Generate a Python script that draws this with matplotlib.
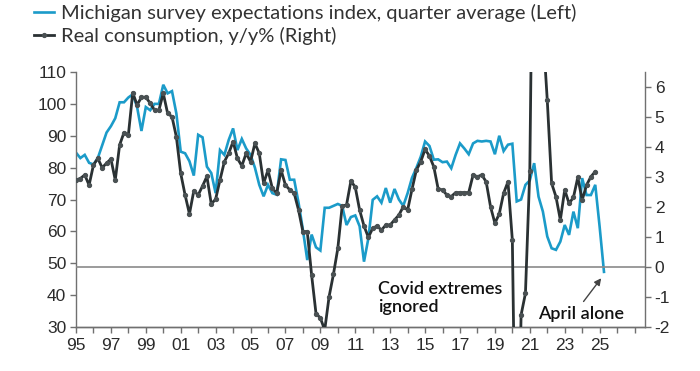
import numpy as np
import matplotlib.pyplot as plt
from matplotlib.ticker import FixedLocator

# quarterly data, 1995Q1 onwards
start_year = 1995
michigan_expect = [
    84.7, 83.0, 84.0, 81.5,   # 1995
    81.0, 83.0, 87.0, 91.0,   # 1996
    93.0, 95.5, 100.5, 100.5,  # 1997
    102.0, 103.0, 99.0, 91.5,  # 1998
    99.0, 98.0, 100.0, 100.0,  # 1999
    106.0, 103.3, 104.0, 97.0,  # 2000
    85.0, 84.5, 82.0, 77.5,   # 2001
    90.3, 89.5, 80.3, 78.3,   # 2002
    72.0, 85.5, 84.0, 88.7,   # 2003
    92.3, 85.5, 89.0, 86.0,   # 2004
    84.0, 80.0, 74.6, 71.0,   # 2005
    74.6, 72.0, 71.5, 82.6,   # 2006
    82.4, 76.2, 76.2, 69.0,   # 2007
    60.5, 51.0, 59.0, 55.0,   # 2008
    54.0, 67.4, 67.4, 68.0,   # 2009
    68.6, 68.0, 62.0, 64.5,   # 2010
    65.0, 61.6, 50.5, 57.8,   # 2011
    69.9, 71.0, 69.0, 73.6,   # 2012
    69.0, 73.3, 70.0, 68.0,   # 2013
    72.0, 76.8, 79.9, 83.4,   # 2014
    88.2, 86.8, 82.5, 82.6,   # 2015
    81.7, 81.9, 79.8, 84.0,   # 2016
    87.6, 86.0, 84.2, 87.6,   # 2017
    88.4, 88.2, 88.4, 88.2,   # 2018
    84.2, 90.0, 85.2, 87.2,   # 2019
    87.5, 69.4, 70.0, 74.6,   # 2020
    76.0, 81.4, 70.9, 66.2,   # 2021
    58.4, 54.7, 54.2, 56.8,   # 2022
    62.0, 58.9, 66.2, 61.0,   # 2023
    76.7, 71.4, 71.4, 74.6,   # 2024
    61.5,                     # 2025Q1
]
april_2025_x = 2025.25
april_2025_value = 47.3

real_consumption = [
    2.90, 2.95, 3.07, 2.73,   # 1995
    3.40, 3.62, 3.31, 3.46,   # 1996
    3.60, 2.90, 4.07, 4.48,   # 1997
    4.40, 5.81, 5.40, 5.66,   # 1998
    5.66, 5.46, 5.23, 5.23,   # 1999
    5.79, 5.12, 5.01, 4.34,   # 2000
    3.12, 2.40, 1.77, 2.54,   # 2001
    2.40, 2.70, 3.02, 2.10,   # 2002
    2.26, 2.90, 3.51, 3.79,   # 2003
    4.18, 3.62, 3.37, 3.79,   # 2004
    3.51, 4.12, 3.79, 2.79,   # 2005
    3.23, 2.62, 2.46, 3.23,   # 2006
    2.73, 2.57, 2.46, 1.90,   # 2007
    1.18, 1.18, -0.27, -1.55,  # 2008
    -1.70, -2.10, -0.99, -0.24,  # 2009
    0.62, 2.03, 2.07, 2.87,   # 2010
    2.66, 1.90, 1.37, 0.99,   # 2011
    1.29, 1.37, 1.23, 1.40,   # 2012
    1.40, 1.57, 1.73, 2.01,   # 2013
    1.90, 2.59, 3.23, 3.51,   # 2014
    3.92, 3.70, 3.34, 2.60,   # 2015
    2.57, 2.40, 2.35, 2.48,   # 2016
    2.48, 2.48, 2.48, 3.07,   # 2017
    3.01, 3.07, 2.84, 2.01,   # 2018
    1.46, 1.77, 2.46, 2.84,   # 2019
    0.90, -9.50, -1.60, -0.88,  # 2020
    3.20, 16.0, 8.50, 7.90,   # 2021
    5.57, 2.79, 2.34, 1.57,   # 2022
    2.57, 2.12, 2.32, 2.99,   # 2023
    2.23, 2.73, 3.01, 3.18,   # 2024
]

label_blue = 'Michigan survey expectations index, quarter average (Left)'
label_dark = 'Real consumption, y/y% (Right)'

blue = '#1b9bc9'
dark = '#2a3133'
txt = '#2b2b2b'

x_blue = start_year + np.arange(len(michigan_expect)) / 4
x_blue = np.append(x_blue, april_2025_x)
y_blue = np.append(michigan_expect, april_2025_value)
x_dark = start_year + np.arange(len(real_consumption)) / 4

plt.rcParams['font.family'] = ['Liberation Sans', 'DejaVu Sans']
plt.rcParams['axes.unicode_minus'] = False

fig = plt.figure(figsize=(7.0, 3.71), dpi=100)
ax = fig.add_axes([76 / 700, 1 - 327 / 371, (645 - 76) / 700, (327 - 72) / 371])
ax2 = ax.twinx()

ax.plot(x_blue, y_blue, color=blue, lw=1.9, solid_joinstyle='miter', label=label_blue)
ax2.axhline(0, color='#8a8a8a', lw=1.2, zorder=1)
ax2.plot(x_dark, real_consumption, color=dark, lw=2.0, marker='o', ms=2.8,
         mfc='#4a5153', mec='#4a5153', label=label_dark, zorder=3)

ax.set_xlim(1995, 2027.6)
ax.set_ylim(30, 110)
ax2.set_ylim(-2, 6.5)
ax.set_yticks(range(30, 111, 10))
ax2.set_yticks(range(-2, 7))

years = list(range(1995, 2026, 2))
ax.set_xticks(years)
ax.set_xticklabels([f'{y % 100:02d}' for y in years])
ax.xaxis.set_minor_locator(FixedLocator(range(1995, 2028)))

for a in (ax, ax2):
    a.spines['top'].set_visible(False)
    for side in ('left', 'right', 'bottom'):
        a.spines[side].set_color('#707070')
        a.spines[side].set_linewidth(1.0)
    a.tick_params(axis='both', which='both', colors='#707070', labelcolor=txt,
                  labelsize=12.5, length=4, width=1.0, pad=3)
ax2.spines['left'].set_visible(False)
ax.spines['right'].set_visible(False)
ax.tick_params(axis='x', which='minor', length=4)
ax.tick_params(axis='x', pad=4)

ax.text(2012.29, 44.3, 'Covid extremes\nignored', fontsize=13, color='#111',
        family=['Lato', 'DejaVu Sans'], fontweight='semibold', va='top', ha='left',
        linespacing=1.15)
ax.text(2023.93, 34.0, 'April alone', fontsize=13, color='#111',
        family=['Lato', 'DejaVu Sans'], fontweight='semibold', ha='center', va='center')
ax.annotate('', xy=(2025.09, 45.3), xytext=(2024.08, 38.0),
            arrowprops=dict(arrowstyle='-|>', color='#444', lw=1.0,
                            shrinkA=0, shrinkB=0, mutation_scale=10))

h1, l1 = ax.get_legend_handles_labels()
h2, l2 = ax2.get_legend_handles_labels()
fig.legend(h1 + h2, l1 + l2, loc='upper left', bbox_to_anchor=(34 / 700, 1 - 4 / 371),
           frameon=False, handlelength=1.0, handletextpad=0.35,
           labelspacing=0.25, borderpad=0, borderaxespad=0,
           prop={'family': ['Lato', 'DejaVu Sans'], 'size': 14.5}, labelcolor='#333')

fig.savefig('out.png', dpi=100)
